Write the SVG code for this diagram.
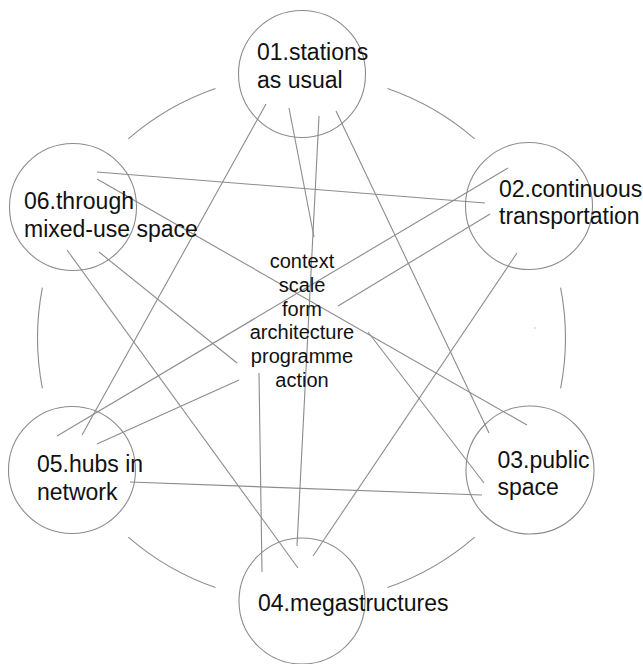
<svg xmlns="http://www.w3.org/2000/svg" width="643" height="664" viewBox="0 0 643 664">
<style>
.bg{fill:#fff}
.node{fill:none;stroke:#8c8c8c;stroke-width:1.1}
.ring{fill:none;stroke:#8c8c8c;stroke-width:1.1}
.lbl{font-family:"Liberation Sans",Arial,sans-serif;font-size:23px;fill:#111}
.ctr{font-family:"Liberation Sans",Arial,sans-serif;font-size:20px;fill:#111;text-anchor:middle}
#connectors line{stroke:#8c8c8c;stroke-width:1.1;fill:none}
</style>
<rect class="bg" x="0" y="0" width="643" height="664"/>
<g id="ring">
<path class="ring" d="M387.5 88.4 A264 264 0 0 1 474.7 138.8"/>
<path class="ring" d="M560.6 287.6 A264 264 0 0 1 560.6 388.4"/>
<path class="ring" d="M474.7 537.2 A264 264 0 0 1 387.5 587.6"/>
<path class="ring" d="M215.5 587.6 A264 264 0 0 1 128.3 537.2"/>
<path class="ring" d="M42.4 388.4 A264 264 0 0 1 42.4 287.6"/>
<path class="ring" d="M128.3 138.8 A264 264 0 0 1 215.5 88.4"/>
</g>
<g id="connectors">
<line x1="289" y1="108" x2="314" y2="237"/>
<line x1="319" y1="116" x2="297" y2="546"/>
<line x1="266" y1="104" x2="82" y2="435"/>
<line x1="336" y1="111" x2="489" y2="433"/>
<line x1="97" y1="172" x2="485" y2="203"/>
<line x1="97" y1="179" x2="527" y2="425"/>
<line x1="67" y1="250" x2="298" y2="568"/>
<line x1="99" y1="252" x2="237" y2="363"/>
<line x1="239" y1="380" x2="97" y2="444"/>
<line x1="508" y1="168" x2="57" y2="436"/>
<line x1="490" y1="214" x2="338" y2="306"/>
<line x1="517" y1="253" x2="313" y2="556"/>
<line x1="368" y1="332" x2="484" y2="483"/>
<line x1="130" y1="482" x2="482" y2="495"/>
<line x1="259" y1="373" x2="262" y2="572"/>
</g>
<g id="n01">
<circle class="node" cx="302" cy="74" r="63.5"/>
<text class="lbl" x="257" y="60">01.stations</text>
<text class="lbl" x="257" y="87.7">as usual</text>
</g>
<g id="n02">
<circle class="node" cx="529" cy="206" r="63.5"/>
<text class="lbl" x="499" y="196.7">02.continuous</text>
<text class="lbl" x="499" y="224">transportation</text>
</g>
<g id="n03">
<circle class="node" cx="530" cy="470" r="64"/>
<text class="lbl" x="497.5" y="467.5">03.public</text>
<text class="lbl" x="497.5" y="495">space</text>
</g>
<g id="n04">
<circle class="node" cx="302" cy="601" r="63"/>
<text class="lbl" x="258" y="610.7">04.megastructures</text>
</g>
<g id="n05">
<circle class="node" cx="72" cy="470" r="63.5"/>
<text class="lbl" x="37" y="471.7">05.hubs in</text>
<text class="lbl" x="37" y="500">network</text>
</g>
<g id="n06">
<circle class="node" cx="73" cy="207" r="63.5"/>
<text class="lbl" x="24" y="209">06.through</text>
<text class="lbl" x="24" y="236.5">mixed-use space</text>
</g>
<g id="center">
<text class="ctr" x="302" y="268">context</text>
<text class="ctr" x="302" y="291.8">scale</text>
<text class="ctr" x="302" y="315.6">form</text>
<text class="ctr" x="302" y="339.4">architecture</text>
<text class="ctr" x="302" y="363.2">programme</text>
<text class="ctr" x="302" y="387">action</text>
</g>
<circle cx="535" cy="328" r="0.7" fill="#b0b0b0"/>
</svg>
